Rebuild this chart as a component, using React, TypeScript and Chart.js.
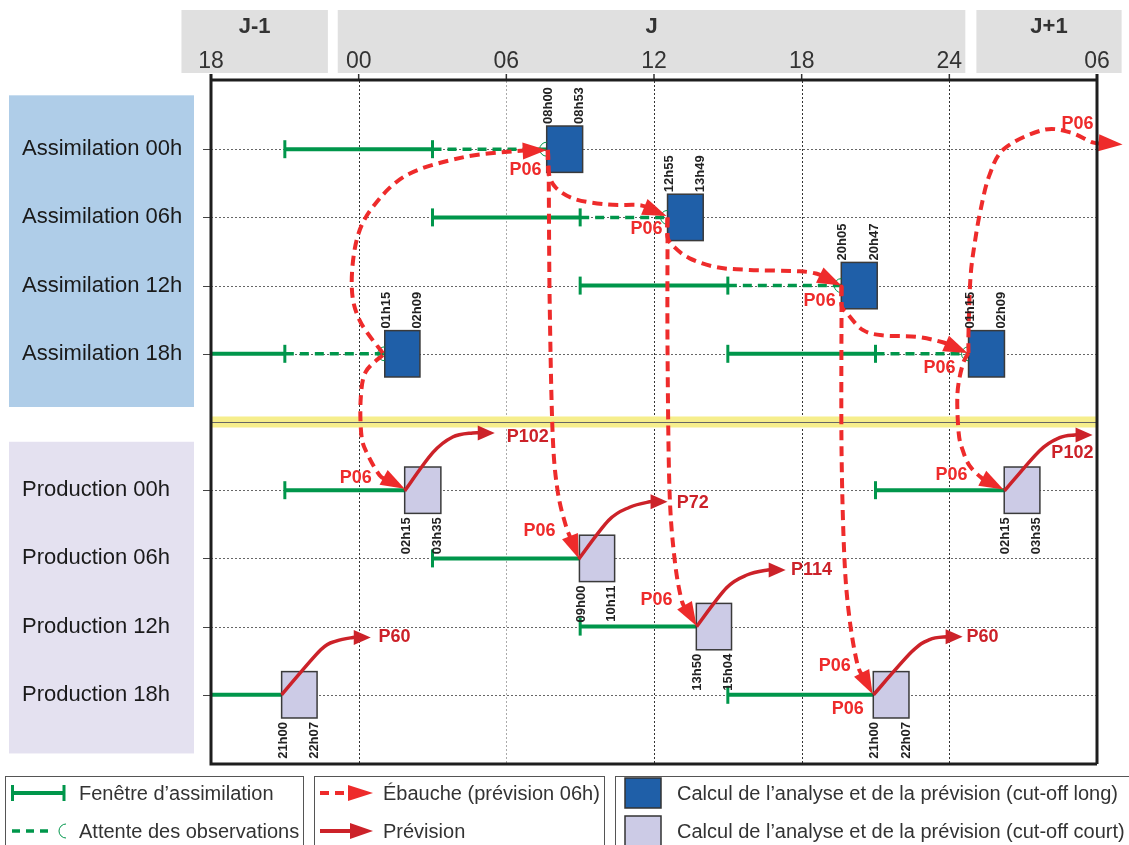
import React, { useEffect, useRef } from 'react';
import { Chart, registerables } from 'chart.js';
Chart.register(...registerables);

// ---------- axis / headers ----------
const xTickHours = [-6, 0, 6, 12, 18, 24, 30];
const xTickLabels = ['18', '00', '06', '12', '18', '24', '06'];
const dayLabels = ['J-1', 'J', 'J+1'];
const dayFrom = [-7.2, -0.85, 25.1];
const dayTo = [-1.25, 24.65, 31.0];

// ---------- rows ----------
const rowLabels = ['Assimilation 00h', 'Assimilation 06h', 'Assimilation 12h', 'Assimilation 18h', '', 'Production 00h', 'Production 06h', 'Production 12h', 'Production 18h'];
const bandRow = 4;
const panelRowFrom = [-0.79, 4.29];
const panelRowTo = [3.78, 8.86];

// ---------- assimilation windows (solid green) ----------
const windowRow = [0, 1, 2, 3, 3, 5, 5, 6, 7, 8, 8];
const windowFrom = [-3, 3, 9, -6, 15, -3, 21, 3, 9, -6, 15];
const windowTo = [3, 9, 15, -3, 21, 1.87, 26.23, 8.97, 13.72, -3.13, 20.91];
const windowTickFrom = [true, true, true, false, true, true, true, true, true, false, true];
const windowTickTo = [true, true, true, true, true, false, false, false, false, false, false];

// ---------- waiting for observations (dashed green) ----------
const waitRow = [0, 1, 2, 3, 3];
const waitFrom = [3, 9, 15, -3, 21];
const waitTo = [7.64, 12.55, 19.61, 1.06, 24.78];

// ---------- computation boxes ----------
const boxRow = [0, 1, 2, 3, 3, 5, 5, 6, 7, 8, 8];
const boxFrom = [7.64, 12.55, 19.61, 1.06, 24.78, 1.87, 26.23, 8.97, 13.72, -3.13, 20.91];
const boxTo = [9.1, 14.0, 21.07, 2.49, 26.24, 3.34, 27.68, 10.4, 15.15, -1.69, 22.36];
const boxStartLabel = ['08h00', '12h55', '20h05', '01h15', '01h15', '02h15', '02h15', '09h00', '13h50', '21h00', '21h00'];
const boxEndLabel = ['08h53', '13h49', '20h47', '02h09', '02h09', '03h35', '03h35', '10h11', '15h04', '22h07', '22h07'];

// ---------- ébauche (P06) curves ----------
const ebaucheX = [
  [0.98, 0.04, -0.28, -0.08, 0.57, 1.95, 4.23, 6.34, 7.64],
  [0.98, 0.28, 0.08, 0.12, 0.37, 0.85, 1.87],
  [7.68, 7.72, 8.0, 8.77, 10.08, 11.42, 12.51],
  [7.68, 7.72, 7.76, 7.88, 8.08, 8.41, 8.94],
  [12.55, 12.55, 12.84, 13.45, 14.54, 15.88, 17.92, 18.65, 19.61],
  [12.55, 12.55, 12.55, 12.63, 12.84, 13.12, 13.73],
  [19.62, 19.62, 19.83, 20.48, 21.29, 22.67, 23.73, 24.74],
  [19.62, 19.62, 19.62, 19.74, 19.95, 20.27, 20.88],
  [24.78, 24.78, 24.86, 25.03, 25.27, 25.63, 26.24, 27.79, 28.88, 29.82, 31.04],
  [24.78, 24.54, 24.33, 24.38, 24.54, 24.82, 25.31, 26.2],
];
const ebaucheY = [
  [2.99, 2.51, 2.02, 1.33, 0.85, 0.38, 0.12, 0.03, 0.01],
  [3.02, 3.27, 3.68, 4.22, 4.48, 4.78, 4.98],
  [0.01, 0.34, 0.56, 0.73, 0.81, 0.82, 0.98],
  [0.01, 0.34, 2.21, 4.16, 5.0, 5.51, 6.0],
  [1.0, 1.29, 1.44, 1.6, 1.73, 1.77, 1.79, 1.83, 2.0],
  [1.0, 1.29, 2.94, 5.0, 6.02, 6.61, 6.99],
  [2.01, 2.29, 2.4, 2.65, 2.73, 2.75, 2.83, 2.99],
  [2.01, 2.29, 4.41, 6.02, 6.9, 7.56, 7.99],
  [2.99, 2.67, 1.88, 1.38, 0.89, 0.38, -0.01, -0.28, -0.25, -0.1, -0.07],
  [2.99, 3.16, 3.58, 4.16, 4.41, 4.64, 4.82, 4.99],
];
const ebaucheLabelX = [6.78, 11.7, 18.73, 23.6, -0.12, 7.35, 12.1, 19.34, 19.87, 24.09, 29.21];
const ebaucheLabelY = [0.31, 1.17, 2.23, 3.21, 4.82, 5.6, 6.61, 7.58, 8.21, 4.78, -0.37];

// ---------- prévision curves ----------
const prevX = [
  [1.87, 3.01, 3.82, 4.63, 5.53],
  [8.94, 10.16, 11.01, 11.82, 12.55],
  [13.73, 14.95, 15.8, 16.62, 17.35],
  [-3.13, -1.54, -0.89, -0.24, 0.49],
  [20.92, 22.47, 23.2, 23.89, 24.54],
  [26.24, 27.67, 28.48, 29.09, 29.82],
];
const prevY = [
  [5.01, 4.45, 4.22, 4.16, 4.16],
  [6.01, 5.44, 5.25, 5.17, 5.17],
  [7.0, 6.43, 6.24, 6.17, 6.17],
  [8.0, 7.34, 7.21, 7.16, 7.16],
  [8.0, 7.37, 7.19, 7.15, 7.15],
  [5.01, 4.42, 4.23, 4.19, 4.19],
];
const prevLabelText = ['P102', 'P72', 'P114', 'P60', 'P60', 'P102'];
const prevLabelX = [6.87, 13.57, 18.4, 1.46, 25.35, 29.0];
const prevLabelY = [4.22, 5.19, 6.17, 7.15, 7.15, 4.45];

// ---------- legend ----------
const legendTexts = [
  'Fenêtre d\u2019assimilation',
  'Attente des observations',
  'Ébauche (prévision 06h)',
  'Prévision',
  'Calcul de l\u2019analyse et de la prévision (cut-off long)',
  'Calcul de l\u2019analyse et de la prévision (cut-off court)',
];

const SANS = '"Liberation Sans", Arial, sans-serif';
const GREEN = '#00964b';
const RED = '#ee2b2b';
const DARKRED = '#cc2229';
const BLUE = '#1f5fa8';
const LAVENDER = '#cccbe6';

type P = { x: number; y: number };

function splinePath(ctx: CanvasRenderingContext2D, pts: P[]) {
  ctx.beginPath();
  ctx.moveTo(pts[0].x, pts[0].y);
  for (let i = 0; i < pts.length - 1; i++) {
    const p0 = pts[Math.max(i - 1, 0)];
    const p1 = pts[i];
    const p2 = pts[i + 1];
    const p3 = pts[Math.min(i + 2, pts.length - 1)];
    ctx.bezierCurveTo(
      p1.x + (p2.x - p0.x) / 6, p1.y + (p2.y - p0.y) / 6,
      p2.x - (p3.x - p1.x) / 6, p2.y - (p3.y - p1.y) / 6,
      p2.x, p2.y
    );
  }
  ctx.stroke();
}

function arrowHead(ctx: CanvasRenderingContext2D, from: P, tip: P, len: number, half: number, color: string) {
  const dx = tip.x - from.x, dy = tip.y - from.y;
  const d = Math.hypot(dx, dy) || 1;
  const ux = dx / d, uy = dy / d;
  const bx = tip.x - ux * len, by = tip.y - uy * len;
  ctx.fillStyle = color;
  ctx.beginPath();
  ctx.moveTo(tip.x, tip.y);
  ctx.lineTo(bx - uy * half, by + ux * half);
  ctx.lineTo(bx + uy * half, by - ux * half);
  ctx.closePath();
  ctx.fill();
}

function arrowCurve(ctx: CanvasRenderingContext2D, pts: P[], color: string, width: number, dash: number[], len: number, half: number) {
  const n = pts.length;
  const tip = pts[n - 1];
  const from = pts[n - 2];
  const dx = tip.x - from.x, dy = tip.y - from.y;
  const d = Math.hypot(dx, dy) || 1;
  const base = { x: tip.x - (dx / d) * len * 0.8, y: tip.y - (dy / d) * len * 0.8 };
  ctx.save();
  ctx.strokeStyle = color;
  ctx.lineWidth = width;
  ctx.setLineDash(dash);
  ctx.lineCap = 'butt';
  splinePath(ctx, [...pts.slice(0, n - 1), base]);
  ctx.setLineDash([]);
  arrowHead(ctx, from, tip, len, half, color);
  ctx.restore();
}

const schemaPlugin = {
  id: 'schema',
  beforeDraw(chart: any) {
    const ctx: CanvasRenderingContext2D = chart.ctx;
    const xs = chart.scales.x, ys = chart.scales.y;
    const a = chart.chartArea;
    ctx.save();
    ctx.fillStyle = '#ffffff';
    ctx.fillRect(0, 0, chart.width, chart.height);

    // day headers
    dayLabels.forEach((lab, i) => {
      const x0 = xs.getPixelForValue(dayFrom[i]);
      const x1 = xs.getPixelForValue(dayTo[i]);
      ctx.fillStyle = '#e0e0e0';
      ctx.fillRect(x0, 10, x1 - x0, 63);
      ctx.fillStyle = '#333';
      ctx.font = 'bold 22px ' + SANS;
      ctx.textAlign = 'center';
      ctx.textBaseline = 'middle';
      ctx.fillText(lab, (x0 + x1) / 2, 27);
    });
    // tick labels
    ctx.font = '23px ' + SANS;
    ctx.fillStyle = '#333';
    ctx.textAlign = 'center';
    ctx.textBaseline = 'middle';
    xTickHours.forEach((h, i) => {
      ctx.fillText(xTickLabels[i], xs.getPixelForValue(h), 62);
    });
    // top ticks
    ctx.strokeStyle = '#333';
    ctx.lineWidth = 1.5;
    xTickHours.forEach((h) => {
      const x = xs.getPixelForValue(h);
      ctx.beginPath();
      ctx.moveTo(x, 74);
      ctx.lineTo(x, a.top);
      ctx.stroke();
    });

    // left panels
    const panelColors = ['#afcde8', '#e4e1f0'];
    panelRowFrom.forEach((r, i) => {
      const y0 = ys.getPixelForValue(r);
      const y1 = ys.getPixelForValue(panelRowTo[i]);
      ctx.fillStyle = panelColors[i];
      ctx.fillRect(9, y0, 185, y1 - y0);
    });
    ctx.font = '22px ' + SANS;
    ctx.fillStyle = '#1a1a1a';
    ctx.textAlign = 'left';
    rowLabels.forEach((lab, r) => {
      if (!lab) return;
      ctx.fillText(lab, 22, ys.getPixelForValue(r));
    });

    // row grid lines + left ticks
    ctx.lineWidth = 1;
    rowLabels.forEach((lab, r) => {
      if (r === bandRow) return;
      const y = Math.round(ys.getPixelForValue(r)) + 0.5;
      ctx.strokeStyle = '#444';
      ctx.setLineDash([]);
      ctx.beginPath();
      ctx.moveTo(203, y);
      ctx.lineTo(a.left, y);
      ctx.stroke();
      ctx.strokeStyle = '#666';
      ctx.setLineDash([2, 2]);
      ctx.beginPath();
      ctx.moveTo(a.left, y);
      ctx.lineTo(a.right, y);
      ctx.stroke();
    });
    // vertical grid
    xTickHours.forEach((h) => {
      if (h <= -6 || h >= 30) return;
      const x = Math.round(xs.getPixelForValue(h)) + 0.5;
      ctx.strokeStyle = h === 6 ? '#aaaaaa' : '#333';
      ctx.setLineDash([2, 2]);
      ctx.beginPath();
      ctx.moveTo(x, a.top);
      ctx.lineTo(x, a.bottom);
      ctx.stroke();
    });
    ctx.setLineDash([]);
    // yellow band
    const yb = ys.getPixelForValue(bandRow);
    ctx.fillStyle = '#f6ee8c';
    ctx.fillRect(a.left, yb - 5.5, a.right - a.left, 11);
    ctx.strokeStyle = '#666';
    ctx.lineWidth = 1;
    ctx.beginPath();
    ctx.moveTo(a.left, Math.round(yb) + 0.5);
    ctx.lineTo(a.right, Math.round(yb) + 0.5);
    ctx.stroke();
    ctx.restore();
  },
  afterDatasetsDraw(chart: any) {
    const ctx: CanvasRenderingContext2D = chart.ctx;
    const xs = chart.scales.x, ys = chart.scales.y;
    const px = (h: number) => xs.getPixelForValue(h);
    const py = (r: number) => ys.getPixelForValue(r);
    ctx.save();
    // boxes
    boxRow.forEach((r, i) => {
      const x0 = px(boxFrom[i]), x1 = px(boxTo[i]);
      const y0 = py(r - 0.34), y1 = py(r + 0.34);
      ctx.fillStyle = r < bandRow ? BLUE : LAVENDER;
      ctx.fillRect(x0, y0, x1 - x0, y1 - y0);
      ctx.strokeStyle = '#3a3a3a';
      ctx.lineWidth = 1.5;
      ctx.strokeRect(x0, y0, x1 - x0, y1 - y0);
      if (r < bandRow) {
        ctx.strokeStyle = GREEN;
        ctx.lineWidth = 1;
        ctx.beginPath();
        ctx.arc(x0, py(r), 7, Math.PI / 2, Math.PI * 1.5);
        ctx.stroke();
      }
    });
    // ébauche curves
    ebaucheX.forEach((xsArr, i) => {
      const pts = xsArr.map((h, j) => ({ x: px(h), y: py(ebaucheY[i][j]) }));
      arrowCurve(ctx, pts, RED, 4, [10, 6], 24, 8.5);
    });
    // prévision curves
    prevX.forEach((xsArr, i) => {
      const pts = xsArr.map((h, j) => ({ x: px(h), y: py(prevY[i][j]) }));
      arrowCurve(ctx, pts, DARKRED, 3.5, [], 17, 7.5);
    });
    // box time labels
    ctx.font = 'bold 13px ' + SANS;
    ctx.fillStyle = '#222';
    ctx.textBaseline = 'middle';
    boxRow.forEach((r, i) => {
      const x0 = px(boxFrom[i]), x1 = px(boxTo[i]);
      const top = r < bandRow;
      const yAnchor = top ? py(r - 0.34) - 2 : py(r + 0.34) + 4;
      [[x0 + 1.5, boxStartLabel[i]], [x1 - 3, boxEndLabel[i]]].forEach(([x, t]: any) => {
        ctx.save();
        ctx.translate(x, yAnchor);
        ctx.rotate(-Math.PI / 2);
        ctx.textAlign = top ? 'left' : 'right';
        ctx.fillText(t, 0, 0);
        ctx.restore();
      });
    });
    // P labels
    ctx.font = 'bold 18px ' + SANS;
    ctx.textAlign = 'center';
    ctx.textBaseline = 'middle';
    ctx.fillStyle = RED;
    ebaucheLabelX.forEach((h, i) => ctx.fillText('P06', px(h), py(ebaucheLabelY[i])));
    ctx.fillStyle = DARKRED;
    prevLabelText.forEach((t, i) => ctx.fillText(t, px(prevLabelX[i]), py(prevLabelY[i])));
    ctx.restore();
  },
  afterDraw(chart: any) {
    const ctx: CanvasRenderingContext2D = chart.ctx;
    const a = chart.chartArea;
    ctx.save();
    // frame
    ctx.strokeStyle = '#1e1e1e';
    ctx.lineWidth = 3;
    ctx.beginPath();
    ctx.moveTo(a.left, a.top - 1);
    ctx.lineTo(a.right, a.top - 1);
    ctx.moveTo(a.left, 74);
    ctx.lineTo(a.left, a.bottom + 1);
    ctx.lineTo(a.right, a.bottom + 1);
    ctx.moveTo(a.right, 74);
    ctx.lineTo(a.right, a.bottom + 1);
    ctx.stroke();

    // legend boxes
    ctx.strokeStyle = '#555';
    ctx.lineWidth = 1;
    ctx.strokeRect(5.5, 776.5, 298, 90);
    ctx.strokeRect(314.5, 776.5, 290, 90);
    ctx.strokeRect(615.5, 776.5, 520, 90);
    const y1 = 793, y2 = 831;
    // green solid
    ctx.strokeStyle = GREEN;
    ctx.lineWidth = 4;
    ctx.beginPath();
    ctx.moveTo(12, y1); ctx.lineTo(64, y1);
    ctx.stroke();
    ctx.lineWidth = 3;
    ctx.beginPath();
    ctx.moveTo(12.5, y1 - 8); ctx.lineTo(12.5, y1 + 8);
    ctx.moveTo(64, y1 - 8); ctx.lineTo(64, y1 + 8);
    ctx.stroke();
    // green dashed
    ctx.lineWidth = 3.5;
    ctx.setLineDash([8, 6]);
    ctx.beginPath();
    ctx.moveTo(12, y2); ctx.lineTo(54, y2);
    ctx.stroke();
    ctx.setLineDash([]);
    ctx.lineWidth = 1;
    ctx.beginPath();
    ctx.arc(66, y2, 7, Math.PI / 2, Math.PI * 1.5);
    ctx.stroke();
    // red dashed + arrow
    ctx.strokeStyle = RED;
    ctx.lineWidth = 4;
    ctx.setLineDash([9, 6]);
    ctx.beginPath();
    ctx.moveTo(320, y1); ctx.lineTo(352, y1);
    ctx.stroke();
    ctx.setLineDash([]);
    arrowHead(ctx, { x: 340, y: y1 }, { x: 373, y: y1 }, 25, 8, RED);
    // red solid + arrow
    ctx.strokeStyle = DARKRED;
    ctx.beginPath();
    ctx.moveTo(320, y2); ctx.lineTo(355, y2);
    ctx.stroke();
    arrowHead(ctx, { x: 340, y: y2 }, { x: 373, y: y2 }, 23, 8, DARKRED);
    // squares
    ctx.fillStyle = BLUE;
    ctx.fillRect(625, 778, 36, 30);
    ctx.strokeStyle = '#333';
    ctx.lineWidth = 1.5;
    ctx.strokeRect(625, 778, 36, 30);
    ctx.fillStyle = LAVENDER;
    ctx.fillRect(625, 816, 36, 30);
    ctx.strokeRect(625, 816, 36, 30);
    // legend texts
    ctx.font = '20px ' + SANS;
    ctx.fillStyle = '#333';
    ctx.textAlign = 'left';
    ctx.textBaseline = 'middle';
    const lx = [79, 79, 383, 383, 677, 677];
    const ly = [y1, y2, y1, y2, y1, y2];
    legendTexts.forEach((t, i) => ctx.fillText(t, lx[i], ly[i] + 1));
    ctx.restore();
  },
};

export default function App() {
  const ref = useRef<HTMLCanvasElement | null>(null);
  useEffect(() => {
    if (!ref.current) return;
    const datasets: any[] = [];
    windowRow.forEach((r, i) => {
      datasets.push({
        data: [{ x: windowFrom[i], y: r }, { x: windowTo[i], y: r }],
        showLine: true,
        borderColor: GREEN,
        backgroundColor: GREEN,
        borderWidth: 4,
        pointStyle: 'line',
        rotation: 90,
        pointRadius: [windowTickFrom[i] ? 9 : 0, windowTickTo[i] ? 9 : 0],
        pointHoverRadius: 0,
        pointBorderColor: GREEN,
        pointBorderWidth: 3,
      });
    });
    waitRow.forEach((r, i) => {
      datasets.push({
        data: [{ x: waitFrom[i], y: r }, { x: waitTo[i], y: r }],
        showLine: true,
        borderColor: GREEN,
        borderWidth: 3.5,
        borderDash: [9, 6],
        pointRadius: 0,
        pointHoverRadius: 0,
      });
    });
    const chart = new Chart(ref.current, {
      type: 'scatter',
      data: { datasets },
      options: {
        animation: false,
        responsive: false,
        events: [],
        layout: { padding: { left: 211, right: 32, top: 81, bottom: 82 } },
        scales: {
          x: { type: 'linear', min: -6, max: 30, display: false },
          y: { type: 'linear', min: -1, max: 9, reverse: true, display: false },
        },
        plugins: { legend: { display: false }, tooltip: { enabled: false } },
      },
      plugins: [schemaPlugin],
    } as any);
    return () => chart.destroy();
  }, []);
  return (
    <div style={{ position: 'absolute', left: 0, top: 0, width: 1129, height: 845, overflow: 'hidden' }}>
      <canvas ref={ref} width={1129} height={845} style={{ display: 'block' }} />
    </div>
  );
}
